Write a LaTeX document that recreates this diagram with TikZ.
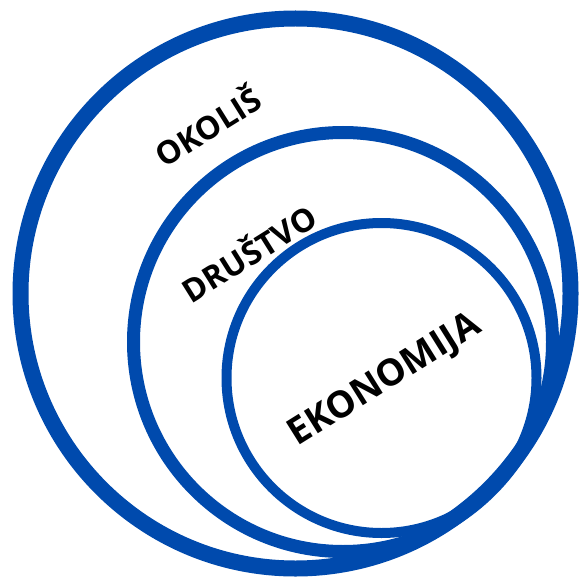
\documentclass[tikz,border=0pt]{standalone}
\usepackage{fontspec}
\setmainfont{Open Sans}
\definecolor{ringblue}{RGB}{0,74,173}
\tikzset{
    ring/.style={circle, draw=ringblue, inner sep=0pt},
    label/.style={font=\bfseries, text=black, rotate=32, inner sep=0pt}
}
\begin{document}
\begin{tikzpicture}[x=1pt, y=-1pt]
    \useasboundingbox (0,0) rectangle (583,580);

    % Nested circles
    \node[ring, line width=16pt, minimum size=550pt] (okolis) at (295.5,293.5) {};
    \node[ring, line width=13pt, minimum size=419pt] (drustvo) at (343,342) {};
    \node[ring, line width=10pt, minimum size=310pt] (ekonomija) at (381.5,378) {};

    % Labels
    \node[label, font=\fontsize{32}{36}\selectfont\bfseries] (okolislbl) at (207,125) {OKOLIŠ};
    \node[label, font=\fontsize{32}{36}\selectfont\bfseries] (drustvolbl) at (248,252) {DRUŠTVO};
    \node[label, font=\fontsize{37}{42}\selectfont\bfseries] (ekonomijalbl) at (385,381) {EKONOMIJA};
\end{tikzpicture}
\end{document}
